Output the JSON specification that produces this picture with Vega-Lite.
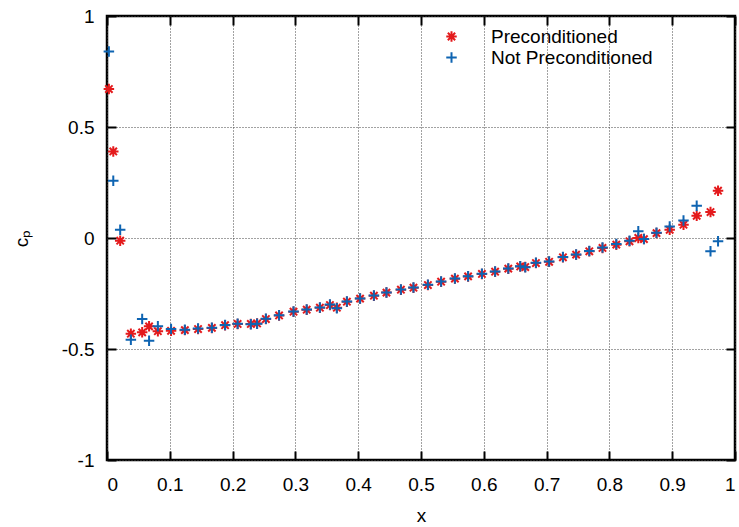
{
  "$schema": "https://vega.github.io/schema/vega-lite/v6.json",
  "width": 628,
  "height": 444,
  "autosize": {"type": "none"},
  "padding": {"left": 107, "top": 16, "right": 4, "bottom": 67},
  "background": "white",
  "data": {"values": [
    {"x": 0.003, "cp": 0.671, "series": "Preconditioned"},
    {"x": 0.010, "cp": 0.39, "series": "Preconditioned"},
    {"x": 0.021, "cp": -0.012, "series": "Preconditioned"},
    {"x": 0.038, "cp": -0.431, "series": "Preconditioned"},
    {"x": 0.056, "cp": -0.425, "series": "Preconditioned"},
    {"x": 0.067, "cp": -0.398, "series": "Preconditioned"},
    {"x": 0.081, "cp": -0.42, "series": "Preconditioned"},
    {"x": 0.102, "cp": -0.418, "series": "Preconditioned"},
    {"x": 0.124, "cp": -0.415, "series": "Preconditioned"},
    {"x": 0.145, "cp": -0.41, "series": "Preconditioned"},
    {"x": 0.167, "cp": -0.405, "series": "Preconditioned"},
    {"x": 0.188, "cp": -0.393, "series": "Preconditioned"},
    {"x": 0.208, "cp": -0.387, "series": "Preconditioned"},
    {"x": 0.229, "cp": -0.387, "series": "Preconditioned"},
    {"x": 0.239, "cp": -0.385, "series": "Preconditioned"},
    {"x": 0.253, "cp": -0.365, "series": "Preconditioned"},
    {"x": 0.274, "cp": -0.349, "series": "Preconditioned"},
    {"x": 0.297, "cp": -0.332, "series": "Preconditioned"},
    {"x": 0.318, "cp": -0.323, "series": "Preconditioned"},
    {"x": 0.339, "cp": -0.314, "series": "Preconditioned"},
    {"x": 0.355, "cp": -0.302, "series": "Preconditioned"},
    {"x": 0.366, "cp": -0.314, "series": "Preconditioned"},
    {"x": 0.382, "cp": -0.287, "series": "Preconditioned"},
    {"x": 0.403, "cp": -0.273, "series": "Preconditioned"},
    {"x": 0.425, "cp": -0.26, "series": "Preconditioned"},
    {"x": 0.445, "cp": -0.246, "series": "Preconditioned"},
    {"x": 0.468, "cp": -0.233, "series": "Preconditioned"},
    {"x": 0.488, "cp": -0.224, "series": "Preconditioned"},
    {"x": 0.511, "cp": -0.212, "series": "Preconditioned"},
    {"x": 0.532, "cp": -0.197, "series": "Preconditioned"},
    {"x": 0.554, "cp": -0.183, "series": "Preconditioned"},
    {"x": 0.575, "cp": -0.173, "series": "Preconditioned"},
    {"x": 0.597, "cp": -0.162, "series": "Preconditioned"},
    {"x": 0.618, "cp": -0.152, "series": "Preconditioned"},
    {"x": 0.639, "cp": -0.138, "series": "Preconditioned"},
    {"x": 0.658, "cp": -0.128, "series": "Preconditioned"},
    {"x": 0.666, "cp": -0.131, "series": "Preconditioned"},
    {"x": 0.683, "cp": -0.113, "series": "Preconditioned"},
    {"x": 0.704, "cp": -0.107, "series": "Preconditioned"},
    {"x": 0.726, "cp": -0.087, "series": "Preconditioned"},
    {"x": 0.747, "cp": -0.075, "series": "Preconditioned"},
    {"x": 0.768, "cp": -0.06, "series": "Preconditioned"},
    {"x": 0.789, "cp": -0.045, "series": "Preconditioned"},
    {"x": 0.811, "cp": -0.03, "series": "Preconditioned"},
    {"x": 0.832, "cp": -0.015, "series": "Preconditioned"},
    {"x": 0.846, "cp": 0.0, "series": "Preconditioned"},
    {"x": 0.855, "cp": -0.005, "series": "Preconditioned"},
    {"x": 0.875, "cp": 0.022, "series": "Preconditioned"},
    {"x": 0.896, "cp": 0.037, "series": "Preconditioned"},
    {"x": 0.918, "cp": 0.06, "series": "Preconditioned"},
    {"x": 0.939, "cp": 0.1, "series": "Preconditioned"},
    {"x": 0.961, "cp": 0.117, "series": "Preconditioned"},
    {"x": 0.973, "cp": 0.213, "series": "Preconditioned"},
    {"x": 0.003, "cp": 0.84, "series": "Not Preconditioned"},
    {"x": 0.010, "cp": 0.258, "series": "Not Preconditioned"},
    {"x": 0.021, "cp": 0.037, "series": "Not Preconditioned"},
    {"x": 0.038, "cp": -0.458, "series": "Not Preconditioned"},
    {"x": 0.056, "cp": -0.365, "series": "Not Preconditioned"},
    {"x": 0.067, "cp": -0.463, "series": "Not Preconditioned"},
    {"x": 0.081, "cp": -0.398, "series": "Not Preconditioned"},
    {"x": 0.102, "cp": -0.41, "series": "Not Preconditioned"},
    {"x": 0.124, "cp": -0.413, "series": "Not Preconditioned"},
    {"x": 0.145, "cp": -0.408, "series": "Not Preconditioned"},
    {"x": 0.167, "cp": -0.404, "series": "Not Preconditioned"},
    {"x": 0.188, "cp": -0.392, "series": "Not Preconditioned"},
    {"x": 0.208, "cp": -0.386, "series": "Not Preconditioned"},
    {"x": 0.229, "cp": -0.388, "series": "Not Preconditioned"},
    {"x": 0.239, "cp": -0.386, "series": "Not Preconditioned"},
    {"x": 0.253, "cp": -0.364, "series": "Not Preconditioned"},
    {"x": 0.274, "cp": -0.348, "series": "Not Preconditioned"},
    {"x": 0.297, "cp": -0.331, "series": "Not Preconditioned"},
    {"x": 0.318, "cp": -0.322, "series": "Not Preconditioned"},
    {"x": 0.339, "cp": -0.313, "series": "Not Preconditioned"},
    {"x": 0.355, "cp": -0.3, "series": "Not Preconditioned"},
    {"x": 0.366, "cp": -0.316, "series": "Not Preconditioned"},
    {"x": 0.382, "cp": -0.286, "series": "Not Preconditioned"},
    {"x": 0.403, "cp": -0.272, "series": "Not Preconditioned"},
    {"x": 0.425, "cp": -0.259, "series": "Not Preconditioned"},
    {"x": 0.445, "cp": -0.245, "series": "Not Preconditioned"},
    {"x": 0.468, "cp": -0.232, "series": "Not Preconditioned"},
    {"x": 0.488, "cp": -0.223, "series": "Not Preconditioned"},
    {"x": 0.511, "cp": -0.211, "series": "Not Preconditioned"},
    {"x": 0.532, "cp": -0.196, "series": "Not Preconditioned"},
    {"x": 0.554, "cp": -0.182, "series": "Not Preconditioned"},
    {"x": 0.575, "cp": -0.172, "series": "Not Preconditioned"},
    {"x": 0.597, "cp": -0.161, "series": "Not Preconditioned"},
    {"x": 0.618, "cp": -0.151, "series": "Not Preconditioned"},
    {"x": 0.639, "cp": -0.137, "series": "Not Preconditioned"},
    {"x": 0.658, "cp": -0.127, "series": "Not Preconditioned"},
    {"x": 0.666, "cp": -0.132, "series": "Not Preconditioned"},
    {"x": 0.683, "cp": -0.111, "series": "Not Preconditioned"},
    {"x": 0.704, "cp": -0.106, "series": "Not Preconditioned"},
    {"x": 0.726, "cp": -0.086, "series": "Not Preconditioned"},
    {"x": 0.747, "cp": -0.074, "series": "Not Preconditioned"},
    {"x": 0.768, "cp": -0.059, "series": "Not Preconditioned"},
    {"x": 0.789, "cp": -0.043, "series": "Not Preconditioned"},
    {"x": 0.811, "cp": -0.027, "series": "Not Preconditioned"},
    {"x": 0.832, "cp": -0.012, "series": "Not Preconditioned"},
    {"x": 0.846, "cp": 0.03, "series": "Not Preconditioned"},
    {"x": 0.855, "cp": -0.005, "series": "Not Preconditioned"},
    {"x": 0.875, "cp": 0.024, "series": "Not Preconditioned"},
    {"x": 0.896, "cp": 0.052, "series": "Not Preconditioned"},
    {"x": 0.918, "cp": 0.079, "series": "Not Preconditioned"},
    {"x": 0.939, "cp": 0.145, "series": "Not Preconditioned"},
    {"x": 0.961, "cp": -0.06, "series": "Not Preconditioned"},
    {"x": 0.973, "cp": -0.015, "series": "Not Preconditioned"}
  ]},
  "layer": [
    {
      "mark": {"type": "point", "filled": false, "strokeWidth": 2, "size": 110, "opacity": 1},
      "encoding": {
        "x": {"field": "x", "type": "quantitative",
          "scale": {"domain": [0, 1], "nice": false, "zero": false},
          "axis": {"values": [0, 0.1, 0.2, 0.3, 0.4, 0.5, 0.6, 0.7, 0.8, 0.9, 1], "format": ".1~f",
            "title": "x", "grid": true, "gridColor": "#444444", "gridDash": [1, 2], "gridOpacity": 1,
            "ticks": true, "tickSize": -9, "tickColor": "#000000", "tickOpacity": 1, "tickWidth": 2,
            "labelPadding": 24, "labelFontSize": 19, "labelColor": "black", "labelFont": "Liberation Sans",
            "titleFontSize": 19, "titleFontWeight": "normal", "titleColor": "black", "titleFont": "Liberation Sans",
            "titlePadding": 12}},
        "y": {"field": "cp", "type": "quantitative",
          "scale": {"domain": [-1, 1], "nice": false, "zero": false},
          "axis": {"values": [-1, -0.5, 0, 0.5, 1], "labelExpr": "'' + datum.value",
            "title": "cₚ", "grid": true, "gridColor": "#444444", "gridDash": [1, 2], "gridOpacity": 1,
            "ticks": true, "tickSize": -9, "tickColor": "#000000", "tickOpacity": 1, "tickWidth": 2,
            "labelPadding": 22, "labelFontSize": 19, "labelColor": "black", "labelFont": "Liberation Sans",
            "titleFontSize": 19, "titleFontWeight": "normal", "titleColor": "black", "titleFont": "Liberation Sans",
            "titlePadding": 30}},
        "color": {"field": "series", "type": "nominal",
          "scale": {"domain": ["Preconditioned", "Not Preconditioned"], "range": ["#e41a1c", "#0e64b2"]},
          "legend": {"title": null, "orient": "none", "legendX": 335, "legendY": 11}},
        "shape": {"field": "series", "type": "nominal",
          "scale": {"domain": ["Preconditioned", "Not Preconditioned"],
            "range": ["M-1,0L1,0M0,-1L0,1M-0.7,-0.7L0.7,0.7M-0.7,0.7L0.7,-0.7", "M-1,0L1,0M0,-1L0,1"]},
          "legend": {"title": null, "orient": "none", "legendX": 335, "legendY": 11}}
      }
    },
    {
      "mark": {"type": "point", "opacity": 0},
      "encoding": {
        "x": {"field": "x", "type": "quantitative",
          "scale": {"domain": [0, 1], "nice": false, "zero": false},
          "axis": {"orient": "top", "ticks": true, "tickSize": -9, "tickColor": "#000000", "tickOpacity": 1, "tickWidth": 2, "values": [0, 0.1, 0.2, 0.3, 0.4, 0.5, 0.6, 0.7, 0.8, 0.9, 1], "labels": false, "grid": false, "title": null}},
        "y": {"field": "cp", "type": "quantitative",
          "scale": {"domain": [-1, 1], "nice": false, "zero": false},
          "axis": {"orient": "right", "ticks": true, "tickSize": -9, "tickColor": "#000000", "tickOpacity": 1, "tickWidth": 2, "values": [-1, -0.5, 0, 0.5, 1], "labels": false, "grid": false, "title": null}}
      }
    }
  ],
  "resolve": {"axis": {"x": "independent", "y": "independent"}},
  "config": {
    "view": {"stroke": "black", "strokeWidth": 2.5},
    "axis": {"domain": false, "tickWidth": 2},
    "legend": {
      "symbolSize": 110,
      "symbolStrokeWidth": 2,
      "labelFontSize": 19,
      "labelFont": "Liberation Sans",
      "labelColor": "black",
      "labelOffset": 30,
      "labelLimit": 0,
      "rowPadding": 1,
      "padding": 0
    }
  }
}
